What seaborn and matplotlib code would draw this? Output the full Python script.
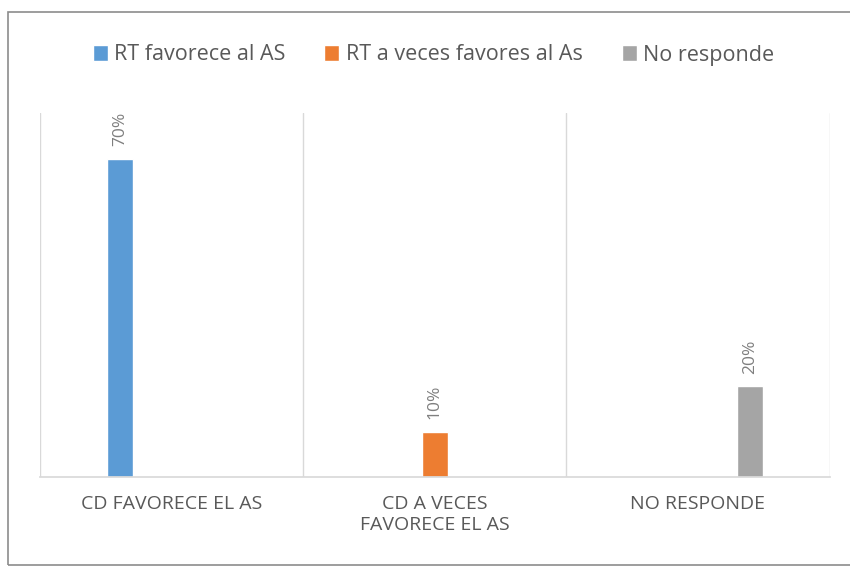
import pandas as pd
import matplotlib
matplotlib.use("Agg")
import matplotlib.pyplot as plt
import seaborn as sns
from matplotlib.patches import Rectangle

# data
categories = ["CD FAVORECE EL AS", "CD A VECES\nFAVORECE EL AS", "NO RESPONDE"]
series = ["RT favorece al AS", "RT a veces favores al As", "No responde"]
values = [70, 10, 20]
colors = ["#5B9BD5", "#ED7D31", "#A5A5A5"]

df = pd.DataFrame({"categoria": categories, "serie": series, "valor": values})

sns.set_theme(style="white")
plt.rcParams["font.family"] = ["Open Sans", "DejaVu Sans"]

fig = plt.figure(figsize=(8.5, 5.68), dpi=100)
ax = fig.add_axes([0.047, 0.160, 0.929, 0.641])

sns.barplot(data=df, x="categoria", y="valor", hue="serie", order=categories,
            hue_order=series, palette=colors, width=0.59, gap=0.5, dodge=True,
            ax=ax, saturation=1, legend=True)

for cont in ax.containers:
    ax.bar_label(cont, labels=[f"{v:.0f}%" for v in cont.datavalues],
                 rotation=90, padding=9, color="#7f7f7f", fontsize=12.5)

ax.set_ylim(0, 80)
ax.set_xlim(-0.5, 2.5)
for xv in [-0.5, 0.5, 1.5, 2.5]:
    ax.axvline(xv, color="#d9d9d9", lw=1, zorder=0)

for s in ["top", "left", "right"]:
    ax.spines[s].set_visible(False)
ax.spines["bottom"].set_color("#d9d9d9")
ax.set_yticks([])
ax.set_xlabel("")
ax.set_ylabel("")
ax.tick_params(axis="x", length=0, pad=13, labelsize=14, labelcolor="#595959")

handles, labels = ax.get_legend_handles_labels()
ax.legend(handles, labels, loc="center", ncol=3, frameon=False,
          handlelength=0.7, handleheight=0.7, handletextpad=0.3,
          columnspacing=1.8, fontsize=15.5, labelcolor="#595959")
leg = ax.get_legend()
leg.set_bbox_to_anchor((0.51, 1 - 55 / 568), transform=fig.transFigure)

fig.patches.append(Rectangle((8 / 850, 3 / 568), 1, 1 - 15 / 568,
                             transform=fig.transFigure, fill=False,
                             edgecolor="#8c8c8c", lw=1.2))

fig.savefig("out.png", dpi=100)
